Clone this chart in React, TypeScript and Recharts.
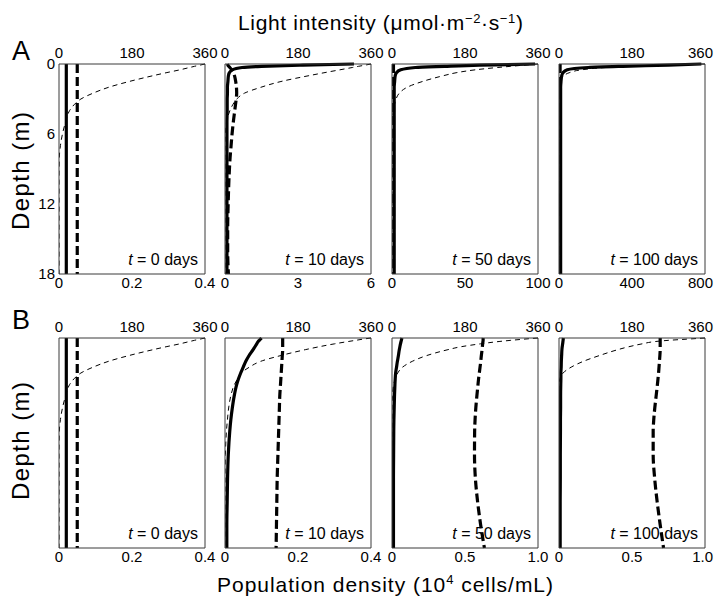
import { LineChart, Line, XAxis, YAxis, ReferenceLine } from 'recharts';

// depth grid (m), shared by every profile
const DEPTH = [0, 0.1, 0.2, 0.3, 0.5, 0.75, 1, 1.5, 2, 2.5, 3, 3.5, 4, 5, 6, 7, 8, 10, 12, 14, 16, 18];

// light intensity profiles (µmol m-2 s-1)
const LIGHT_T0 = [360, 347, 334, 322, 298, 264, 232, 173, 122, 84, 54, 37, 26, 16, 8.5, 3.5, 0.8, 0, 0, 0, 0, 0];
const LIGHT_A10 = [360, 345, 329, 314, 283, 244, 207, 138, 88, 48, 29, 19, 12, 4, 1, 0, 0, 0, 0, 0, 0, 0];
const LIGHT_A50 = [360, 325, 292, 260, 205, 158, 127, 75, 37, 18, 10, 6, 3, 1, 0, 0, 0, 0, 0, 0, 0, 0];
const LIGHT_A100 = [360, 250, 170, 115, 55, 25, 12, 3, 1, 0, 0, 0, 0, 0, 0, 0, 0, 0, 0, 0, 0, 0];
const LIGHT_B10 = [360, 340, 322, 304, 270, 232, 198, 138, 88, 60, 40, 31, 23, 14, 9, 6, 3.5, 1, 0, 0, 0, 0];
const LIGHT_B50 = [360, 325, 293, 264, 218, 170, 138, 86, 50, 26, 14, 8, 4, 1, 0, 0, 0, 0, 0, 0, 0, 0];
const LIGHT_B100 = [360, 315, 270, 238, 205, 172, 145, 100, 60, 30, 10, 2, 0, 0, 0, 0, 0, 0, 0, 0, 0, 0];

// population density, solid species (10^4 cells/mL)
const SOLID_T0 = [0.02, 0.02, 0.02, 0.02, 0.02, 0.02, 0.02, 0.02, 0.02, 0.02, 0.02, 0.02, 0.02, 0.02, 0.02, 0.02, 0.02, 0.02, 0.02, 0.02, 0.02, 0.02];
const SOLID_A10 = [5.3, 3.2, 1.5, 0.7, 0.3, 0.18, 0.14, 0.12, 0.1, 0.1, 0.09, 0.09, 0.09, 0.08, 0.08, 0.08, 0.08, 0.08, 0.08, 0.08, 0.08, 0.08];
const SOLID_A50 = [98, 60, 36, 16, 6, 3, 2.2, 1.8, 1.5, 1.5, 1.5, 1.5, 1.5, 1.5, 1.5, 1.5, 1.5, 1.5, 1.5, 1.5, 1.5, 1.5];
const SOLID_A100 = [780, 600, 350, 160, 45, 22, 15, 11, 9, 9, 9, 9, 9, 9, 9, 9, 9, 9, 9, 9, 9, 9];
const SOLID_B10 = [0.1, 0.097, 0.094, 0.091, 0.087, 0.082, 0.077, 0.066, 0.057, 0.05, 0.043, 0.037, 0.032, 0.025, 0.02, 0.016, 0.013, 0.009, 0.007, 0.006, 0.005, 0.005];
const SOLID_B50 = [0.068, 0.066, 0.064, 0.062, 0.058, 0.054, 0.05, 0.044, 0.037, 0.031, 0.025, 0.022, 0.02, 0.017, 0.015, 0.013, 0.012, 0.011, 0.01, 0.01, 0.01, 0.01];
const SOLID_B100 = [0.03, 0.029, 0.028, 0.027, 0.025, 0.022, 0.02, 0.018, 0.016, 0.015, 0.013, 0.013, 0.012, 0.011, 0.011, 0.01, 0.01, 0.009, 0.009, 0.008, 0.008, 0.008];

// population density, dashed species
const DASHED_T0 = [0.05, 0.05, 0.05, 0.05, 0.05, 0.05, 0.05, 0.05, 0.05, 0.05, 0.05, 0.05, 0.05, 0.05, 0.05, 0.05, 0.05, 0.05, 0.05, 0.05, 0.05, 0.05];
const DASHED_A10 = [0.1, 0.12, 0.15, 0.2, 0.28, 0.35, 0.39, 0.44, 0.47, 0.48, 0.46, 0.43, 0.4, 0.34, 0.29, 0.25, 0.21, 0.16, 0.13, 0.11, 0.11, 0.14];
const DASHED_A50 = [1, 1, 1, 1, 1, 1, 1, 1, 1, 1, 1, 1, 1, 1, 1, 1, 1, 1, 1, 1, 1, 1];
const DASHED_A100 = [6, 6, 6, 6, 6, 6, 6, 6, 6, 6, 6, 6, 6, 6, 6, 6, 6, 6, 6, 6, 6, 6];
const DASHED_B10 = [0.158, 0.158, 0.158, 0.158, 0.158, 0.158, 0.158, 0.157, 0.156, 0.155, 0.154, 0.153, 0.152, 0.15, 0.149, 0.148, 0.147, 0.145, 0.143, 0.142, 0.141, 0.14];
const DASHED_B50 = [0.625, 0.624, 0.624, 0.623, 0.621, 0.619, 0.617, 0.612, 0.608, 0.603, 0.598, 0.593, 0.589, 0.581, 0.574, 0.569, 0.566, 0.565, 0.571, 0.586, 0.607, 0.633];
const DASHED_B100 = [0.693, 0.693, 0.693, 0.693, 0.693, 0.693, 0.693, 0.691, 0.688, 0.685, 0.682, 0.678, 0.674, 0.665, 0.656, 0.649, 0.645, 0.645, 0.655, 0.672, 0.693, 0.716];

// ticks
const LIGHT_TICKS = [0, 180, 360];
const DEPTH_TICKS = [0, 6, 12, 18];
const POP_TICKS_04 = [0, 0.2, 0.4];
const POP_LABELS_04 = ['0', '0.2', '0.4'];
const POP_TICKS_6 = [0, 3, 6];
const POP_LABELS_6 = ['0', '3', '6'];
const POP_TICKS_100 = [0, 50, 100];
const POP_LABELS_100 = ['0', '50', '100'];
const POP_TICKS_800 = [0, 400, 800];
const POP_LABELS_800 = ['0', '400', '800'];
const POP_TICKS_1 = [0, 0.5, 1];
const POP_LABELS_1 = ['0', '0.5', '1.0'];
const DAYS = ['0', '10', '50', '100'];

const PANELS = [
  { row: 0, col: 0, light: LIGHT_T0, solid: SOLID_T0, dashed: DASHED_T0, ticks: POP_TICKS_04, labels: POP_LABELS_04, depthTicks: true },
  { row: 0, col: 1, light: LIGHT_A10, solid: SOLID_A10, dashed: DASHED_A10, ticks: POP_TICKS_6, labels: POP_LABELS_6 },
  { row: 0, col: 2, light: LIGHT_A50, solid: SOLID_A50, dashed: DASHED_A50, ticks: POP_TICKS_100, labels: POP_LABELS_100 },
  { row: 0, col: 3, light: LIGHT_A100, solid: SOLID_A100, dashed: DASHED_A100, ticks: POP_TICKS_800, labels: POP_LABELS_800 },
  { row: 1, col: 0, light: LIGHT_T0, solid: SOLID_T0, dashed: DASHED_T0, ticks: POP_TICKS_04, labels: POP_LABELS_04 },
  { row: 1, col: 1, light: LIGHT_B10, solid: SOLID_B10, dashed: DASHED_B10, ticks: POP_TICKS_04, labels: POP_LABELS_04 },
  { row: 1, col: 2, light: LIGHT_B50, solid: SOLID_B50, dashed: DASHED_B50, ticks: POP_TICKS_1, labels: POP_LABELS_1 },
  { row: 1, col: 3, light: LIGHT_B100, solid: SOLID_B100, dashed: DASHED_B100, ticks: POP_TICKS_1, labels: POP_LABELS_1 },
];

const FONT = '"Liberation Sans", Arial, Helvetica, sans-serif';
const FRAME = '#3a3a3a';
const PLOT_W = 146;
const PLOT_H = 210;
const AXIS_W = 38;
const TOP_H = 26;
const BOTTOM_H = 26;
const RIGHT_PAD = 16;
const COL_X = [59, 225, 392, 559];
const ROW_Y = [64, 338];

type PanelDef = (typeof PANELS)[number] & { depthTicks?: boolean };

// tick text; on the rightmost column the last label is pulled inside the page
function makeTick(labels: string[] | null, last: number | null, pullIn: boolean, anchor: 'top' | 'bottom') {
  return (props: any) => {
    const { x, y, payload } = props;
    const v = payload.value as number;
    const text = labels ? labels[props.index] ?? String(v) : String(v);
    const isLast = pullIn && last !== null && v === last;
    return (
      <text
        x={isLast ? x + 8 : x}
        y={y}
        dy={anchor === 'top' ? 0 : 11}
        textAnchor={isLast ? 'end' : 'middle'}
        fontSize={15}
        fill="#000"
        fontFamily={FONT}
      >
        {text}
      </text>
    );
  };
}

function Panel({ p }: { p: PanelDef }) {
  const rows = DEPTH.map((d, i) => ({ depth: d, light: p.light[i], solid: p.solid[i], dashed: p.dashed[i] }));
  const popMax = p.ticks[p.ticks.length - 1];
  const edge = p.col === 3;
  return (
    <div style={{ position: 'absolute', left: COL_X[p.col] - AXIS_W, top: ROW_Y[p.row] - TOP_H }}>
      <LineChart
        layout="vertical"
        width={AXIS_W + PLOT_W + RIGHT_PAD}
        height={TOP_H + PLOT_H + BOTTOM_H}
        data={rows}
        margin={{ top: 0, right: RIGHT_PAD, bottom: 0, left: 0 }}
      >
        <XAxis
          xAxisId="light"
          orientation="top"
          type="number"
          domain={[0, 360]}
          allowDataOverflow
          ticks={LIGHT_TICKS}
          interval={0}
          height={TOP_H}
          tickLine={false}
          tickSize={0}
          tickMargin={6}
          axisLine={{ stroke: FRAME }}
          tick={makeTick(null, 360, edge, 'top')}
        />
        <XAxis
          xAxisId="pop"
          orientation="bottom"
          type="number"
          domain={[0, popMax]}
          allowDataOverflow
          ticks={p.ticks}
          interval={0}
          height={BOTTOM_H}
          tickLine={false}
          tickSize={0}
          tickMargin={3}
          axisLine={{ stroke: FRAME }}
          tick={makeTick(p.labels, popMax, edge, 'bottom')}
        />
        <YAxis
          type="number"
          dataKey="depth"
          domain={[0, 18]}
          ticks={DEPTH_TICKS}
          interval={0}
          width={AXIS_W}
          tickLine={false}
          tickSize={0}
          tickMargin={4}
          axisLine={{ stroke: FRAME }}
          tick={p.depthTicks ? { fontSize: 15, fill: '#000', fontFamily: FONT } : false}
        />
        <ReferenceLine xAxisId="pop" x={popMax} stroke={FRAME} />
        <Line xAxisId="light" dataKey="light" type="monotone" stroke="#000" strokeWidth={1} strokeDasharray="5 4" dot={false} activeDot={false} isAnimationActive={false} />
        <Line xAxisId="pop" dataKey="solid" type="monotone" stroke="#000" strokeWidth={3.2} dot={false} activeDot={false} isAnimationActive={false} />
        <Line xAxisId="pop" dataKey="dashed" type="monotone" stroke="#000" strokeWidth={3.2} strokeDasharray="9 4" dot={false} activeDot={false} isAnimationActive={false} />
      </LineChart>
    </div>
  );
}

export default function App() {
  return (
    <div style={{ position: 'absolute', left: 0, top: 0, width: 714, height: 600, background: '#fff', fontFamily: FONT, overflow: 'hidden' }}>
      {PANELS.map((p, i) => (
        <Panel key={i} p={p as PanelDef} />
      ))}
      <svg width={714} height={600} style={{ position: 'absolute', left: 0, top: 0, pointerEvents: 'none' }} fontFamily={FONT}>
        <text x={238} y={30} fontSize={21} textLength={285} lengthAdjust="spacing">
          Light intensity (μmol·m<tspan dy={-7} fontSize={13}>−2</tspan>
          <tspan dy={7}>·s</tspan>
          <tspan dy={-7} fontSize={13}>−1</tspan>
          <tspan dy={7}>)</tspan>
        </text>
        <text x={217} y={592} fontSize={21} textLength={336} lengthAdjust="spacing">
          Population density (10<tspan dy={-8} fontSize={13}>4</tspan>
          <tspan dy={8}> cells/mL)</tspan>
        </text>
        <text transform="translate(29,171) rotate(-90)" textAnchor="middle" fontSize={24} textLength={118} lengthAdjust="spacing">Depth (m)</text>
        <text transform="translate(29,441) rotate(-90)" textAnchor="middle" fontSize={24} textLength={118} lengthAdjust="spacing">Depth (m)</text>
        <text x={12} y={60} fontSize={27}>A</text>
        <text x={12} y={329} fontSize={27}>B</text>
        {PANELS.map((p, i) => (
          <text
            key={i}
            x={COL_X[p.col] + PLOT_W - 7}
            y={ROW_Y[p.row] + PLOT_H - 9}
            textAnchor="end"
            fontSize={16}
          >
            <tspan fontStyle="italic">t</tspan>
            {` = ${DAYS[p.col]} days`}
          </text>
        ))}
      </svg>
    </div>
  );
}
